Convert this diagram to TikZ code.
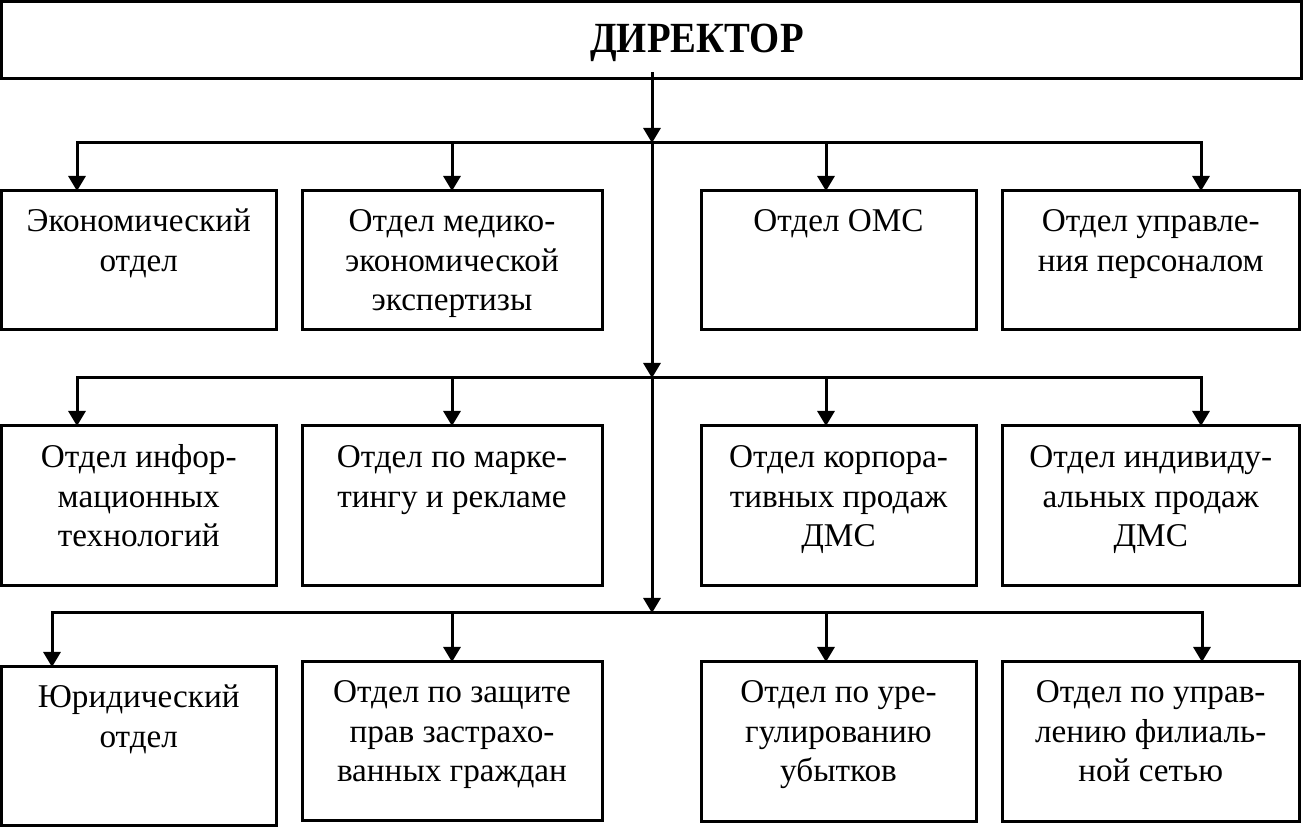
\documentclass[tikz,border=0pt]{standalone}
\usepackage{fontspec}
\setmainfont{Liberation Serif}
\newfontfamily\dirfont[FakeStretch=0.9]{Liberation Serif}
\usetikzlibrary{arrows.meta,calc}
\newcommand\deptfont{\fontsize{16.6pt}{19.75pt}\selectfont}
\newcommand\deptbox[7]{%
  \pgfmathsetmacro\dbw{(#4-#2)*0.5}%
  \pgfmathsetmacro\dbh{(#5-#3)*0.5}%
  \node[dbox] (#1) at ({(#2+#4)/2},{(#3+#5)/2})
    {\parbox[c][\dbh pt][t]{\dbw pt}{\centering\deptfont\rule{0pt}{#6pt}#7}};%
}
\begin{document}
\begin{tikzpicture}[x=0.5pt,y=-0.5pt,
  dbox/.style={draw,line width=1.5pt,inner sep=0pt,outer sep=0pt},
  dirbox/.style={draw,line width=1.75pt,inner sep=0pt,outer sep=0pt,
    minimum width=650pt,text height=25.75pt,text depth=12.75pt,
    font=\dirfont\fontsize{21.5pt}{26pt}\selectfont\bfseries},
  arr/.style={line width=1.5pt,line join=miter,
    -{Triangle[width=8.5pt,length=7.5pt]}},
  ]
\useasboundingbox (0,0) rectangle (1303,828);

\node[dirbox] (dir) at (651.5,40) {\hspace{45.5pt}ДИРЕКТОР};

% row 1
\deptbox{b11}{1.5}{191}{276}{330}{20.5}{Экономический\\отдел}
\deptbox{b12}{302}{191}{602}{330}{20.5}{Отдел медико-\\экономической\\экспертизы}
\deptbox{b13}{701}{191}{976}{330}{20.5}{Отдел ОМС}
\deptbox{b14}{1002}{191}{1299.5}{330}{20.5}{Отдел управле-\\ния персоналом}
% row 2
\deptbox{b21}{1.5}{426}{276}{586}{21}{Отдел инфор-\\мационных\\технологий}
\deptbox{b22}{302}{426}{602}{586}{21}{Отдел по марке-\\тингу и рекламе}
\deptbox{b23}{701}{426}{976}{586}{21}{Отдел корпора-\\тивных продаж\\ДМС}
\deptbox{b24}{1002}{426}{1299.5}{586}{21}{Отдел индивиду-\\альных продаж\\ДМС}
% row 3
\deptbox{b31}{1.5}{667}{276}{826}{20.5}{Юридический\\отдел}
\deptbox{b32}{302}{662}{602}{821}{20.5}{Отдел по защите\\прав застрахо-\\ванных граждан}
\deptbox{b33}{701}{662}{976}{822}{20.5}{Отдел по уре-\\гулированию\\убытков}
\deptbox{b34}{1002}{662}{1299.5}{822}{20.5}{Отдел по управ-\\лению филиаль-\\ной сетью}

% junctions on the trunk
\coordinate (j1) at (652,143);
\coordinate (j2) at (652,378);
\coordinate (j3) at (652,613);

\draw[arr] ([yshift=3pt]dir.south -| j1) -- (j1);
\draw[arr] (j1) -- (j2);
\draw[arr] (j2) -- (j3);

% bar 1
\draw[arr] (j1) -| ([xshift=37.75pt]b11.north west);
\draw[arr] (j1) -| (b12.north);
\draw[arr] (j1) -| ([xshift=62.5pt]b13.north west);
\draw[arr] (j1) -| ([xshift=99.5pt]b14.north west);
% bar 2
\draw[arr] (j2) -| ([xshift=37.75pt]b21.north west);
\draw[arr] (j2) -| (b22.north);
\draw[arr] (j2) -| ([xshift=62.5pt]b23.north west);
\draw[arr] (j2) -| ([xshift=99.5pt]b24.north west);
% bar 3
\draw[arr] (j3) -| ([xshift=25.25pt]b31.north west);
\draw[arr] (j3) -| (b32.north);
\draw[arr] (j3) -| ([xshift=62.5pt]b33.north west);
\draw[arr] (j3) -| ([xshift=100pt]b34.north west);
\end{tikzpicture}
\end{document}
